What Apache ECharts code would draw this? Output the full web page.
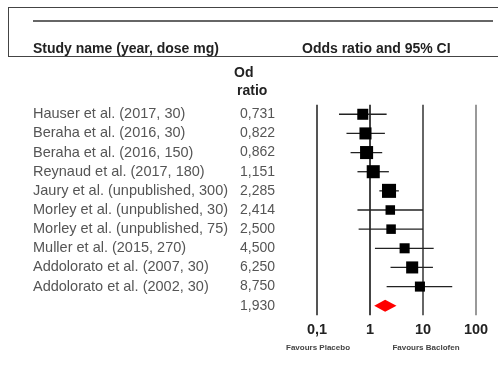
<!DOCTYPE html>
<html>
<head>
<meta charset="utf-8">
<script src="https://cdn.jsdelivr.net/npm/echarts@6/dist/echarts.min.js"></script>
<style>
  html, body { margin: 0; padding: 0; background: #fff; }
  #chart { width: 498px; height: 365px; }
</style>
</head>
<body>
<div id="chart"></div>
<script>
// Forest plot: baclofen vs placebo, odds ratios with 95% CI (log scale)
const studies = [
  'Hauser et al. (2017, 30)',
  'Beraha et al. (2016, 30)',
  'Beraha et al. (2016, 150)',
  'Reynaud et al. (2017, 180)',
  'Jaury et al. (unpublished, 300)',
  'Morley et al. (unpublished, 30)',
  'Morley et al. (unpublished, 75)',
  'Muller et al. (2015, 270)',
  'Addolorato et al. (2007, 30)',
  'Addolorato et al. (2002, 30)'
];
const oddsRatio = [0.731, 0.822, 0.862, 1.151, 2.285, 2.414, 2.500, 4.500, 6.250, 8.750];
const ciLower   = [0.26, 0.36, 0.43, 0.58, 1.50, 0.58, 0.61, 1.24, 2.44, 2.06];
const ciUpper   = [2.06, 1.91, 1.70, 2.27, 3.50, 10.0, 10.0, 15.9, 15.4, 35.6];
const weights   = [9.1, 10.9, 12.8, 12.8, 14.8, 6.8, 6.8, 7.6, 10.9, 7.6]; // relative study weight, %
const pooled    = { or: 1.930, lower: 1.20, upper: 3.16 };
const xTicks    = [0.1, 1, 10, 100];

const FONT = "'Liberation Sans', Arial, sans-serif";
const fmt = v => v.toFixed(3).replace('.', ',');

const studyRows = studies.map((s, i) => [i, ciLower[i], oddsRatio[i], ciUpper[i], weights[i]]);
const pooledRow = studies.length;

const chart = echarts.init(document.getElementById('chart'), null, { renderer: 'canvas' });

chart.setOption({
  animation: false,
  backgroundColor: '#fff',
  grid: { left: 317, width: 159, top: 104.7, height: 210.6 },
  xAxis: {
    type: 'log',
    logBase: 10,
    min: xTicks[0],
    max: xTicks[xTicks.length - 1],
    axisLine: { show: false },
    axisTick: { show: false },
    splitLine: {
      show: true,
      lineStyle: { width: 2, color: ['#555', '#444', '#666', '#999'] }
    },
    axisLabel: {
      margin: 7,
      fontFamily: FONT,
      fontSize: 14.5,
      fontWeight: 'bold',
      color: '#222',
      formatter: v => String(+v.toPrecision(6)).replace('.', ',')
    }
  },
  yAxis: {
    type: 'value',
    min: -0.5,
    max: pooledRow + 0.5,
    inverse: true,
    show: false
  },
  graphic: [
    // header frame
    { type: 'line', shape: { x1: 8, y1: 7.5, x2: 498, y2: 7.5 }, style: { stroke: '#444', lineWidth: 1 } },
    { type: 'line', shape: { x1: 8.5, y1: 7, x2: 8.5, y2: 57 }, style: { stroke: '#444', lineWidth: 1 } },
    { type: 'line', shape: { x1: 8, y1: 56.5, x2: 498, y2: 56.5 }, style: { stroke: '#444', lineWidth: 1 } },
    { type: 'line', shape: { x1: 33, y1: 21, x2: 493, y2: 21 }, style: { stroke: '#666', lineWidth: 2 } },
    { type: 'text', x: 33, y: 49, style: { text: 'Study name (year, dose mg)', font: 'bold 14px ' + FONT, fill: '#222', verticalAlign: 'middle' } },
    { type: 'text', x: 302, y: 49, style: { text: 'Odds ratio and 95% CI', font: 'bold 14px ' + FONT, fill: '#222', verticalAlign: 'middle' } },
    { type: 'text', x: 234, y: 73, style: { text: 'Od', font: 'bold 14px ' + FONT, fill: '#222', verticalAlign: 'middle' } },
    { type: 'text', x: 237, y: 91, style: { text: 'ratio', font: 'bold 14px ' + FONT, fill: '#222', verticalAlign: 'middle' } },
    { type: 'text', x: 318, y: 348, style: { text: 'Favours Placebo', font: 'bold 8px ' + FONT, fill: '#444', align: 'center', verticalAlign: 'middle' } },
    { type: 'text', x: 426, y: 348, style: { text: 'Favours Baclofen', font: 'bold 8px ' + FONT, fill: '#444', align: 'center', verticalAlign: 'middle' } }
  ],
  series: [
    {
      // study labels and odds-ratio column
      type: 'custom',
      clip: false,
      silent: true,
      data: oddsRatio.concat([pooled.or]).map((v, i) => [v, i]),
      renderItem: (params, api) => {
        const i = api.value(1);
        const y = api.coord([1, i])[1];
        const children = [{
          type: 'text',
          style: { x: 240, y: y, text: fmt(api.value(0)), font: '14px ' + FONT, fill: '#555', verticalAlign: 'middle' }
        }];
        if (i < studies.length) {
          children.push({
            type: 'text',
            style: { x: 33, y: y, text: studies[i], font: '14.5px ' + FONT, fill: '#555', verticalAlign: 'middle' }
          });
        }
        return { type: 'group', children: children };
      }
    },
    {
      // confidence intervals and weighted squares
      type: 'custom',
      clip: false,
      data: studyRows,
      renderItem: (params, api) => {
        const i = api.value(0);
        const lo = api.coord([api.value(1), i]);
        const mid = api.coord([api.value(2), i]);
        const hi = api.coord([api.value(3), i]);
        const side = 3.65 * Math.sqrt(api.value(4));
        return {
          type: 'group',
          children: [
            { type: 'line', shape: { x1: lo[0], y1: lo[1], x2: hi[0], y2: hi[1] }, style: { stroke: '#222', lineWidth: 1.3 } },
            { type: 'rect', shape: { x: mid[0] - side / 2, y: mid[1] - side / 2, width: side, height: side }, style: { fill: '#000' } }
          ]
        };
      }
    },
    {
      // pooled estimate diamond
      type: 'custom',
      clip: false,
      data: [[pooledRow, pooled.lower, pooled.or, pooled.upper]],
      renderItem: (params, api) => {
        const i = api.value(0);
        const lo = api.coord([api.value(1), i]);
        const mid = api.coord([api.value(2), i]);
        const hi = api.coord([api.value(3), i]);
        const h = 6;
        return {
          type: 'polygon',
          shape: { points: [[lo[0], lo[1]], [mid[0], mid[1] - h], [hi[0], hi[1]], [mid[0], mid[1] + h]] },
          style: { fill: '#ff0000' }
        };
      }
    }
  ]
});
</script>
</body>
</html>
